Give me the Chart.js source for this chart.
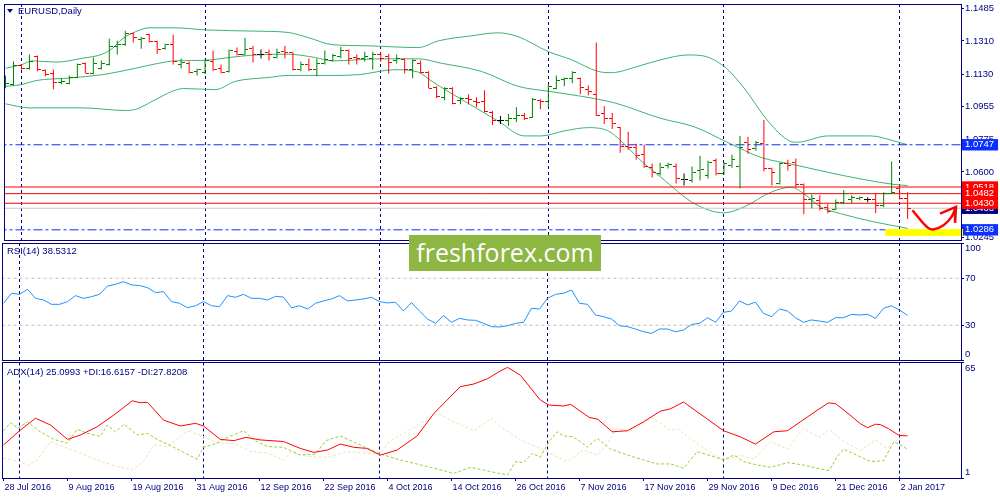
<!DOCTYPE html>
<html lang="en">
<head>
<meta charset="UTF-8">
<title>EURUSD, Daily</title>
<script src="https://cdn.jsdelivr.net/npm/chart.js"></script>
<style>
  body { margin: 0; background: #fff; font-family: "Liberation Sans", Arial, sans-serif; }
  #wrap { position: relative; width: 1000px; height: 500px; overflow: hidden; background: #fff; }
  canvas { position: absolute; left: 0; }
  .lbl { position: absolute; left: 7px; font-size: 9.5px; line-height: 12px; color: #000080; white-space: nowrap; }
  #tri { position: absolute; left: 7px; top: 9px; width: 0; height: 0; border-left: 3px solid transparent; border-right: 3px solid transparent; border-top: 4px solid #000080; }
  #logo { position: absolute; left: 409px; top: 235px; width: 192px; height: 36px; background: #8db643; color: #fff;
          font-family: "Open Sans", sans-serif; font-size: 25px; line-height: 35px; text-align: center; }
</style>
</head>
<body>
<div id="wrap">
  <canvas id="priceChart" width="1000" height="250" style="top:0"></canvas>
  <canvas id="rsiChart" width="1000" height="122" style="top:241px"></canvas>
  <canvas id="adxChart" width="1000" height="139" style="top:361px"></canvas>
  <div id="tri"></div>
  <div class="lbl" style="left:18px;top:5px">EURUSD,Daily</div>
  <div class="lbl" style="top:245px">RSI(14) 38.5312</div>
  <div class="lbl" style="top:366px">ADX(14) 25.0993 +DI:16.6157 -DI:27.8208</div>
  <div id="logo">freshforex.com</div>
</div>
<script>
    // bar index 0 = 28 Jul 2016 ... 113 = 3 Jan 2017 (trading days)
    const dateIdx = [0, 8, 16, 24, 32, 40, 48, 56, 64, 72, 80, 88, 96, 104, 112];
    const dateLabels = ['28 Jul 2016', '9 Aug 2016', '19 Aug 2016', '31 Aug 2016', '12 Sep 2016', '22 Sep 2016',
        '4 Oct 2016', '14 Oct 2016', '26 Oct 2016', '7 Nov 2016', '17 Nov 2016', '29 Nov 2016',
        '9 Dec 2016', '21 Dec 2016', '2 Jan 2017'];
    const sepIdx = [2, 25, 47, 68, 90, 112]; // first bar of each month

    const opens = [1.1075,1.1075,1.1177,1.1161,1.1225,1.1150,1.1134,1.1086,1.1080,1.1112,
        1.1188,1.1134,1.1161,1.1182,1.1279,1.1290,1.1349,1.1317,1.1344,1.1306,
        1.1268,1.1290,1.1182,1.1188,1.1145,1.1139,1.1198,1.1161,1.1145,1.1252,
        1.1236,1.1268,1.1236,1.1247,1.1220,1.1252,1.1247,1.1155,1.1182,1.1155,
        1.1188,1.1204,1.1225,1.1258,1.1220,1.1215,1.1215,1.1236,1.1225,1.1204,
        1.1209,1.1155,1.1188,1.1139,1.1059,1.1005,1.1053,1.0989,1.1000,1.0983,
        1.0983,1.0924,1.0881,1.0881,1.0892,1.0908,1.0897,1.0989,1.0983,1.1053,
        1.1102,1.1107,1.1107,1.1048,1.1021,1.0914,1.0892,1.0838,1.0736,1.0731,
        1.0693,1.0623,1.0591,1.0634,1.0629,1.0559,1.0553,1.0607,1.0580,1.0661,
        1.0591,1.0634,1.0629,1.0758,1.0725,1.0752,1.0618,1.0537,1.0645,1.0650,
        1.0532,1.0451,1.0446,1.0408,1.0397,1.0435,1.0451,1.0457,1.0451,1.0451,
        1.0419,1.0483,1.0510,1.0457];
    const highs = [1.1123,1.1198,1.1182,1.1236,1.1231,1.1155,1.1155,1.1107,1.1123,1.1188,
        1.1193,1.1220,1.1204,1.1322,1.1311,1.1365,1.1354,1.1333,1.1349,1.1311,
        1.1295,1.1344,1.1215,1.1198,1.1161,1.1209,1.1258,1.1182,1.1263,1.1274,
        1.1327,1.1284,1.1263,1.1263,1.1268,1.1284,1.1252,1.1198,1.1215,1.1215,
        1.1258,1.1241,1.1279,1.1263,1.1236,1.1252,1.1252,1.1247,1.1241,1.1236,
        1.1215,1.1209,1.1204,1.1145,1.1064,1.1059,1.1059,1.1005,1.1021,1.1005,
        1.1043,1.0930,1.0903,1.0914,1.0951,1.0919,1.1000,1.0994,1.1075,1.1123,
        1.1112,1.1145,1.1112,1.1069,1.1301,1.0957,1.0919,1.0844,1.0817,1.0752,
        1.0747,1.0645,1.0650,1.0650,1.0645,1.0591,1.0629,1.0688,1.0661,1.0672,
        1.0650,1.0693,1.0795,1.0790,1.0768,1.0881,1.0623,1.0650,1.0666,1.0672,
        1.0537,1.0478,1.0473,1.0424,1.0451,1.0500,1.0473,1.0467,1.0462,1.0483,
        1.0489,1.0656,1.0532,1.0489];
    const lows = [1.1053,1.1069,1.1155,1.1155,1.1145,1.1118,1.1048,1.1075,1.1075,1.1107,
        1.1134,1.1129,1.1155,1.1177,1.1236,1.1284,1.1301,1.1268,1.1301,1.1241,
        1.1263,1.1182,1.1161,1.1134,1.1123,1.1129,1.1145,1.1134,1.1139,1.1231,
        1.1231,1.1193,1.1215,1.1204,1.1215,1.1215,1.1150,1.1145,1.1145,1.1118,
        1.1182,1.1198,1.1215,1.1182,1.1182,1.1198,1.1155,1.1198,1.1134,1.1188,
        1.1134,1.1107,1.1134,1.1053,1.1000,1.0989,1.0967,1.0967,1.0967,1.0951,
        1.0924,1.0854,1.0860,1.0849,1.0870,1.0881,1.0892,1.0940,1.0951,1.1048,
        1.1064,1.1080,1.1021,1.1016,1.0903,1.0860,1.0833,1.0704,1.0720,1.0666,
        1.0623,1.0569,1.0580,1.0618,1.0537,1.0526,1.0543,1.0553,1.0564,1.0580,
        1.0586,1.0623,1.0510,1.0698,1.0715,1.0602,1.0526,1.0532,1.0607,1.0516,
        1.0371,1.0403,1.0392,1.0376,1.0392,1.0424,1.0430,1.0446,1.0435,1.0376,
        1.0408,1.0483,1.0451,1.0344];
    const closes = [1.1080,1.1177,1.1161,1.1198,1.1155,1.1129,1.1086,1.1091,1.1112,1.1182,
        1.1134,1.1188,1.1188,1.1279,1.1290,1.1349,1.1327,1.1322,1.1306,1.1263,
        1.1290,1.1198,1.1193,1.1139,1.1155,1.1204,1.1155,1.1139,1.1258,1.1236,
        1.1263,1.1236,1.1236,1.1236,1.1247,1.1247,1.1155,1.1182,1.1155,1.1188,
        1.1209,1.1231,1.1258,1.1215,1.1215,1.1225,1.1236,1.1215,1.1193,1.1215,
        1.1155,1.1204,1.1139,1.1053,1.1010,1.1053,1.0973,1.1000,1.0994,1.0978,
        1.0930,1.0881,1.0881,1.0892,1.0908,1.0892,1.0994,1.0983,1.1064,1.1096,
        1.1107,1.1139,1.1059,1.1037,1.0908,1.0892,1.0860,1.0736,1.0731,1.0688,
        1.0629,1.0596,1.0623,1.0639,1.0564,1.0559,1.0596,1.0613,1.0650,1.0591,
        1.0645,1.0666,1.0731,1.0720,1.0758,1.0618,1.0596,1.0645,1.0634,1.0532,
        1.0451,1.0457,1.0403,1.0387,1.0435,1.0483,1.0462,1.0462,1.0451,1.0419,
        1.0483,1.0489,1.0457,1.0403];

    // Bollinger bands, [bar index, price]
    const bbUpper = [[0,1.1162],[2,1.1181],[3.4,1.1202],[6.3,1.1195],[9.6,1.1216],[12.1,1.1238],[13.4,1.1270],
        [14.6,1.1320],[16.3,1.1360],[18,1.1381],[21.3,1.1381],[25,1.1370],[31.3,1.1363],[35.4,1.1356],
        [38,1.1327],[40.9,1.1290],[45,1.1284],[51.7,1.1274],[54.2,1.1310],[58.4,1.1338],[61.7,1.1354],
        [64.2,1.1333],[68,1.1252],[70.9,1.1208],[74.2,1.1145],[75.9,1.1138],[79.2,1.1172],[82.1,1.1208],
        [85.5,1.1234],[87.1,1.1231],[90,1.1172],[92.5,1.1055],[95.5,1.0876],[98.2,1.0768],[99.2,1.0761],
        [103,1.0795],[108.4,1.0795],[111.3,1.0768],[113,1.0747]];
    const bbMiddle = [[0,1.1064],[2,1.1073],[3.8,1.1095],[8,1.1109],[12.1,1.1127],[16.3,1.1162],[19.2,1.1189],
        [21.3,1.1202],[25,1.1205],[28,1.1220],[31.3,1.1234],[35.4,1.1238],[38.8,1.1220],[40.9,1.1202],
        [47.1,1.1213],[51.7,1.1213],[54.6,1.1189],[59.6,1.1145],[64.2,1.1064],[68,1.1037],[72.1,1.1010],
        [76.3,1.0974],[82.1,1.0890],[86.3,1.0844],[90.5,1.0759],[94.6,1.0679],[98.8,1.0639],[103,1.0598],
        [107.1,1.0562],[111.3,1.0532],[113,1.0526]];
    const bbLower = [[0,1.0969],[3,1.0947],[9.6,1.0947],[15,1.0933],[16.3,1.0939],[18.4,1.0983],[20.9,1.1037],
        [22.3,1.1052],[26.3,1.1046],[28.8,1.1091],[33,1.1112],[35.4,1.1123],[40.9,1.1123],[44.2,1.1127],
        [48.8,1.1154],[51.7,1.1141],[53.4,1.1091],[57.5,1.0983],[61.7,1.0876],[65,1.0795],[67.1,1.0795],
        [70,1.0822],[73,1.0840],[75.5,1.0822],[77.1,1.0768],[79.6,1.0661],[82.1,1.0571],[86.3,1.0428],
        [90,1.0378],[92.5,1.0410],[95.9,1.0490],[98.4,1.0517],[100,1.0482],[102.1,1.0410],[104.6,1.0374],
        [108.8,1.0329],[113,1.0294]];

    const priceTicks = [1.1485, 1.1310, 1.1130, 1.0955, 1.0775, 1.0600, 1.0420, 1.0245];
    const blueLevels = [1.0747, 1.0286];
    const redLevels = [1.0518, 1.0482, 1.0430];
    const bidLevel = 1.0403;

    // hand drawn marks on the chart, [bar index, price]
    const arrowPath = [[113.6,1.0392],[115.4,1.0302],[116.2,1.0288],[117.5,1.0311],[118.5,1.0356],[119.06,1.0410]];
    const arrowHead = [[117.06,1.0374],[119.06,1.0410],[118.94,1.0324]];
    const highlight = [[110.2,1.0271],[119.94,1.0271]];

    const rsiVals = [48.7,57.2,56.3,60.6,52.9,51.5,47.8,47.8,50.1,55.2,
        52.9,54.3,56.3,63.4,64.8,67.1,64.3,63.8,62.0,57.8,
        58.6,50.1,48.7,44.9,46.6,50.1,46.6,45.8,55.2,53.8,
        56.3,52.9,52.9,51.5,54.6,54.0,44.9,46.6,43.8,48.7,
        50.7,52.4,55.2,50.7,51.5,52.4,53.8,50.1,49.0,49.6,
        42.1,49.3,42.1,35.3,31.6,38.2,32.5,35.9,34.5,34.2,
        31.6,28.8,28.5,29.6,31.6,32.5,44.4,43.8,52.9,56.3,
        57.2,60.0,48.7,47.8,38.7,37.3,35.3,29.6,28.8,26.8,
        24.5,23.1,26.8,26.8,24.5,25.9,30.7,31.6,36.4,32.5,
        41.0,42.1,50.7,47.3,49.6,40.1,37.3,43.8,42.1,36.4,
        32.5,34.5,33.6,32.5,36.4,36.4,39.3,38.7,39.3,35.9,
        44.4,46.6,42.9,38.5];
    const rsiLevels = [70, 30];
    const rsiTicks = [100, 70, 30, 0];

    // ADX(14) lines, [bar index, value]
    const adxLine = [[0,19.3],[2,27.2],[4,34.1],[5.9,30.3],[8,22.4],[9.6,24.8],[11.7,29.4],[13.8,35.9],
        [16.1,43.8],[17.1,42.7],[18,42.9],[20,33.1],[22.1,29.8],[24,31.3],[25,29.8],[27.1,22.4],[28.8,21.7],
        [30.3,23.5],[32.1,22.1],[35,21.2],[37.1,17.4],[38.8,15.2],[40.5,16.5],[42.1,19.8],[43.8,18.0],
        [45.4,17.4],[47.1,13.7],[49.2,16.5],[51.7,24.3],[53.8,36.8],[57.1,51.6],[58.8,53.1],[60.5,56.0],
        [62.1,60.3],[63,62.3],[64.6,58.0],[67.1,44.2],[68.2,41.4],[70,40.9],[70.9,41.8],[73.2,34.6],
        [74.3,33.5],[76.1,26.6],[78,27.2],[80,32.1],[82.1,38.0],[83.4,39.4],[85,43.1],[87.9,33.9],
        [90,27.2],[92.1,23.8],[94,19.8],[96.3,26.6],[98,27.2],[99.6,32.1],[101.7,38.5],[103.1,42.6],
        [104,42.2],[105.7,36.3],[107.1,31.1],[108,28.9],[109,30.8],[109.6,30.6],[110.6,28.4],[111.9,24.7],[113,24.3]];
    const plusDI = [[0,27.2],[0.9,31.6],[1.8,28.5],[3,32.1],[4.6,26.6],[6.3,22.4],[8,20.3],[9.2,28.0],
        [10.5,25.8],[12.1,24.0],[13,30.3],[14,26.6],[15.1,30.8],[16.7,24.8],[18,25.7],[19.2,22.4],[21.3,18.0],
        [24.2,11.4],[25,18.0],[26.7,20.3],[28,23.5],[30,27.2],[31.3,22.1],[33,18.4],[35,18.0],[37.1,13.7],
        [39,14.3],[40.3,21.7],[42.1,24.3],[44.6,19.3],[47.1,14.3],[49.6,11.0],[53,7.3],[56.3,3.6],[58.4,6.9],
        [60,5.4],[62.1,3.4],[63,2.7],[64,10.1],[65,9.5],[66.1,14.7],[67.1,12.5],[68.2,21.2],[69.2,26.6],
        [70,24.3],[71.1,23.9],[72.1,21.2],[73,18.0],[74.2,23.0],[75.9,17.0],[78,13.7],[80,11.0],[81.7,8.8],
        [83.4,8.8],[85,6.4],[86.7,15.6],[88.8,12.8],[90,11.0],[91.3,13.7],[92.5,10.1],[94.2,8.2],[95.9,6.9],
        [98,9.5],[100,8.2],[101.7,6.4],[103.2,5.1],[104.2,12.8],[105,17.0],[107.1,12.8],[108.4,10.1],
        [110,10.6],[111.3,21.2],[112.1,19.3],[113,17.0]];
    const minusDI = [[0,11.9],[2.1,10.1],[3,7.7],[4.2,11.0],[5.9,21.2],[8,17.4],[9.6,14.8],[11.7,11.0],
        [14.2,7.3],[16.1,5.4],[17.5,10.1],[18.8,19.3],[20.5,18.4],[23,27.2],[24.6,24.8],[26.7,20.3],[28.8,20.3],
        [30.9,15.7],[33,14.8],[35,11.0],[35.9,15.2],[38,12.9],[40.5,12.5],[43,15.7],[45,14.8],[47.1,14.3],
        [48.2,21.2],[50,25.7],[52.1,31.3],[54.2,36.8],[56.3,32.1],[58.8,27.2],[61,34.1],[62.1,29.4],
        [64.6,22.1],[67.1,17.4],[69.2,12.8],[70.5,10.1],[72.5,16.5],[74.3,13.7],[75.5,20.3],[76.7,28.6],
        [78.1,26.6],[79.6,30.3],[81.1,34.1],[82.5,30.3],[83.4,27.2],[84.2,28.5],[85.5,23.9],[86.7,20.3],
        [87.9,16.5],[89.2,12.8],[90.4,11.0],[92.1,13.7],[93.8,11.4],[95.9,21.2],[98,17.0],[100,28.6],
        [101.9,23.5],[103.2,27.9],[105,21.2],[107.1,16.3],[109,22.1],[110.4,17.4],[113,26.6]];
    const adxTicks = [65, 1];

    const NAVY = '#000080';
    const BLUE = '#0a30ff';
    const GREEN = '#008000', RED = '#ff0000', BLACK = '#000000';
    const X_MIN = -0.1875, X_MAX = 119.6875;

    Chart.defaults.font.family = '"Liberation Sans", Arial, sans-serif';
    Chart.defaults.font.size = 9.5;
    Chart.defaults.color = NAVY;
    Chart.defaults.elements.point.radius = 0;
    Chart.defaults.elements.line.borderWidth = 1;

    const pt = a => ({ x: a[0], y: a[1] });
    const flat = v => [{ x: -1, y: v }, { x: 121, y: v }];

    // navy frame round each pane
    const frame = {
        id: 'frame',
        afterDraw(chart) {
            const { ctx, chartArea: a } = chart;
            ctx.save();
            ctx.strokeStyle = NAVY;
            ctx.lineWidth = 1;
            const l = Math.floor(a.left) + 0.5, t = Math.floor(a.top) + 0.5;
            ctx.strokeRect(l, t, Math.floor(a.right) + 0.5 - l, Math.floor(a.bottom) + 0.5 - t);
            ctx.restore();
        }
    };
    // keep the 1px open/close ticks sharp
    const sharp = { id: 'sharp', beforeDatasetsDraw(chart) { chart.ctx.imageSmoothingEnabled = false; } };

    function sepAxis() {
        return {
            type: 'linear', position: 'bottom', min: X_MIN, max: X_MAX, offset: false, bounds: 'data',
            afterBuildTicks: s => { s.ticks = sepIdx.map(v => ({ value: v })); },
            afterFit: s => { s.height = 0; s.paddingLeft = 0; s.paddingRight = 0; },
            ticks: { display: false },
            grid: { color: NAVY, drawTicks: false, offset: false, borderDash: [3, 3] },
            border: { display: false, dash: [3, 3] }
        };
    }

    function rightAxis(min, max, values, label, tickExtra) {
        return {
            type: 'linear', position: 'right', min, max, bounds: 'data',
            afterBuildTicks: s => { s.ticks = values.map(v => ({ value: v })); },
            afterFit: s => { s.width = 39; s.paddingTop = 0; s.paddingBottom = 0; },
            grid: { drawOnChartArea: false, drawTicks: true, tickLength: 3, tickColor: NAVY },
            border: { display: false },
            ticks: Object.assign({ autoSkip: false, crossAlign: 'near', padding: 1, color: NAVY, callback: label },
                tickExtra || {})
        };
    }

    // edge labels sit inside the pane, as the terminal draws them
    const edgeLabel = (top, bottom) => v => v === top ? ['', String(v)] : v === bottom ? [String(v), ''] : String(v);

    const baseOpts = { responsive: false, animation: false, events: [],
        plugins: { legend: { display: false }, tooltip: { enabled: false } } };

    // ---------- price pane ----------
    const barColors = opens.map((o, i) => closes[i] > o ? GREEN : closes[i] < o ? RED : BLACK);
    function tickImg(color, left) {
        const c = document.createElement('canvas');
        c.width = 7; c.height = 1;
        const g = c.getContext('2d');
        g.fillStyle = color;
        g.fillRect(left ? 0 : 4, 0, 3, 1);
        return c;
    }
    const imgs = {};
    [GREEN, RED, BLACK].forEach(c => { imgs[c] = { o: tickImg(c, true), c: tickImg(c, false) }; });

    const tagBg = v => blueLevels.includes(v) ? BLUE : redLevels.includes(v) ? RED : v === bidLevel ? NAVY : null;
    const axisVals = priceTicks.concat([bidLevel], blueLevels, redLevels);

    new Chart(document.getElementById('priceChart'), {
        type: 'line',
        data: {
            datasets: [
                { data: arrowPath.map(pt), borderColor: RED, borderWidth: 2.5, tension: 0.4, clip: false, order: 0 },
                { data: arrowHead.map(pt), borderColor: RED, borderWidth: 2.5, clip: false, order: 0 },
                { data: highlight.map(pt), borderColor: '#ffff00', borderWidth: 7, borderCapStyle: 'butt', clip: false, order: 1 },
                { type: 'bar', data: opens.map((o, i) => ({ x: i, y: [lows[i], highs[i]] })), backgroundColor: barColors,
                  barThickness: 1, inflateAmount: 0, grouped: false, borderWidth: 0, order: 2 },
                { data: opens.map((o, i) => ({ x: i, y: o })), showLine: false, pointRadius: 1, pointBorderWidth: 0,
                  pointStyle: barColors.map(c => imgs[c].o), order: 2 },
                { data: closes.map((c, i) => ({ x: i, y: c })), showLine: false, pointRadius: 1, pointBorderWidth: 0,
                  pointStyle: barColors.map(c => imgs[c].c), order: 2 },
                ...redLevels.map(v => ({ data: flat(v), borderColor: RED, order: 3 })),
                ...blueLevels.map(v => ({ data: flat(v), borderColor: BLUE, borderDash: [9, 3, 3, 3], order: 3 })),
                { data: flat(bidLevel), borderColor: '#c8c8c8', order: 4 },
                { data: bbUpper.map(pt), borderColor: '#3cb371', cubicInterpolationMode: 'monotone', order: 5 },
                { data: bbMiddle.map(pt), borderColor: '#3cb371', cubicInterpolationMode: 'monotone', order: 5 },
                { data: bbLower.map(pt), borderColor: '#3cb371', cubicInterpolationMode: 'monotone', order: 5 }
            ]
        },
        options: Object.assign({}, baseOpts, {
            layout: { padding: { left: 2, top: 2, right: 0, bottom: 10 } },
            scales: {
                x: sepAxis(),
                // level tags on the price axis
                y: rightAxis(1.02308, 1.15102, axisVals, v => v.toFixed(4), {
                    color: c => tagBg(c.tick.value) ? '#ffffff' : NAVY,
                    showLabelBackdrop: c => tagBg(c.tick.value) !== null,
                    backdropColor: c => tagBg(c.tick.value) || 'rgba(0,0,0,0)',
                    backdropPadding: { top: 0, bottom: 0, left: 3, right: 4 }
                })
            }
        }),
        plugins: [frame, sharp]
    });

    // ---------- RSI pane ----------
    new Chart(document.getElementById('rsiChart'), {
        type: 'line',
        data: {
            datasets: [
                { data: rsiVals.map((v, i) => ({ x: i, y: v })), borderColor: '#1e90ff', order: 0 },
                ...rsiLevels.map(v => ({ data: flat(v), borderColor: '#bdbdbd', borderDash: [3, 3], order: 1 }))
            ]
        },
        options: Object.assign({}, baseOpts, {
            layout: { padding: { left: 2, top: 2, right: 0, bottom: 2.5 } },
            scales: {
                x: sepAxis(),
                y: rightAxis(0, 100, rsiTicks, edgeLabel(100, 0))
            }
        }),
        plugins: [frame]
    });

    // ---------- ADX pane ----------
    new Chart(document.getElementById('adxChart'), {
        type: 'line',
        data: {
            datasets: [
                { data: adxLine.map(pt), borderColor: RED, order: 0 },
                { data: plusDI.map(pt), borderColor: '#9acd32', borderDash: [3, 2], order: 1 },
                { data: minusDI.map(pt), borderColor: '#f5deb3', borderDash: [3, 2], order: 2 }
            ]
        },
        options: Object.assign({}, baseOpts, {
            layout: { padding: { left: 2, top: 1.5, right: 0, bottom: 0 } },
            scales: {
                x: sepAxis(),
                xd: {
                    type: 'linear', position: 'bottom', min: X_MIN, max: X_MAX, offset: false, bounds: 'data',
                    afterBuildTicks: s => { s.ticks = dateIdx.map(v => ({ value: v })); },
                    afterFit: s => { s.height = 22; s.paddingLeft = 0; s.paddingRight = 0; },
                    grid: { drawOnChartArea: false, drawTicks: true, tickLength: 3, tickColor: NAVY, offset: false },
                    border: { display: false },
                    ticks: { autoSkip: false, maxRotation: 0, minRotation: 0, align: 'start', padding: 1,
                             labelOffset: 1, color: NAVY, font: { size: 9 },
                             callback: v => dateLabels[dateIdx.indexOf(v)] }
                },
                y: rightAxis(1, 65, adxTicks, edgeLabel(65, 1))
            }
        }),
        plugins: [frame]
    });
</script>
</body>
</html>
